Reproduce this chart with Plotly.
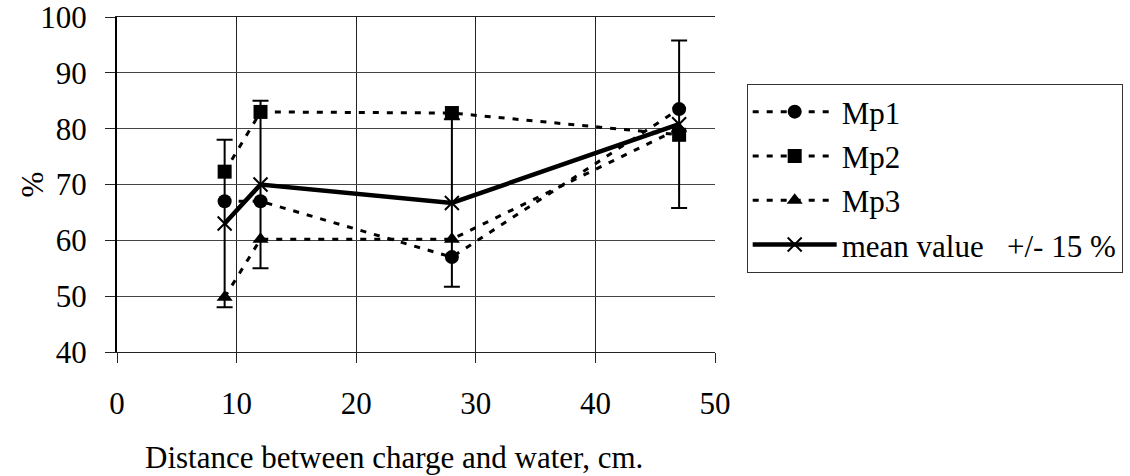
import plotly.graph_objects as go

distance = [9, 12, 28, 47]
mp1 = [67.0, 67.0, 57.0, 83.5]
mp2 = [72.3, 83.0, 82.8, 78.9]
mp3 = [49.8, 60.2, 60.2, 80.0]
mean_value = [63.0, 70.0, 66.7, 80.8]
err_pm = [15, 15, 15, 15]

x_ticks = [0, 10, 20, 30, 40, 50]
y_ticks = [40, 50, 60, 70, 80, 90, 100]

FONT = "Liberation Serif"
FS = 31
NB = "\u00a0"

fig = go.Figure()
dash = "6px,8px"
for name, ys, sym in [("Mp1", mp1, "circle"), ("Mp2", mp2, "square"), ("Mp3", mp3, "triangle-up")]:
    fig.add_trace(go.Scatter(
        x=distance, y=ys, name=name, mode="lines+markers",
        line=dict(color="black", width=3, dash=dash),
        marker=dict(symbol=sym, size=14, color="black"),
        legendgroup=name,
    ))
fig.add_trace(go.Scatter(
    x=distance, y=mean_value, name="mean value" + NB * 3 + "+/- 15 %",
    mode="lines+markers",
    line=dict(color="black", width=4.5),
    marker=dict(symbol="x-thin", size=14, color="black", line=dict(color="black", width=2)),
    error_y=dict(type="data", array=err_pm, visible=True, color="black", thickness=2, width=8),
    legendgroup="mean",
))

axis_common = dict(
    showgrid=True, gridwidth=1,
    ticks="outside", ticklen=10, tickcolor="#222", tickwidth=1,
    tickfont=dict(family=FONT, size=FS, color="black"),
    zeroline=False, automargin=False, ticklabeloverflow="allow",
)
fig.update_xaxes(range=[0, 50], tickvals=x_ticks, showline=True, linecolor="#222", linewidth=1,
                 mirror=True, ticklabelstandoff=14, gridcolor="#222", **axis_common)
fig.update_yaxes(range=[40, 100], tickvals=y_ticks, showline=True, linecolor="black", linewidth=2,
                 ticklabelstandoff=12, gridcolor="#444", **axis_common)

fig.update_layout(
    width=1130, height=476,
    margin=dict(l=117, r=415, t=17, b=124, autoexpand=False),
    plot_bgcolor="white", paper_bgcolor="white",
    font=dict(family=FONT, size=FS, color="black"),
    showlegend=True,
    legend=dict(x=1.053, y=0.80, xanchor="left", yanchor="top",
                bordercolor="#333", borderwidth=1, bgcolor="white",
                font=dict(family=FONT, size=FS), tracegroupgap=1,
                traceorder="grouped", itemwidth=84),
    annotations=[
        dict(text="Distance between charge and water, cm.", xref="paper", yref="paper",
             x=0.463, y=-0.316, xanchor="center", yanchor="middle", showarrow=False,
             font=dict(family=FONT, size=FS)),
        dict(text="%", xref="paper", yref="paper", x=-0.142, y=0.5, textangle=-90,
             xanchor="center", yanchor="middle", showarrow=False,
             font=dict(family=FONT, size=FS)),
    ],
)
fig.write_html("out.html", config={"displayModeBar": False},
               post_script="document.body.style.margin='0';")
